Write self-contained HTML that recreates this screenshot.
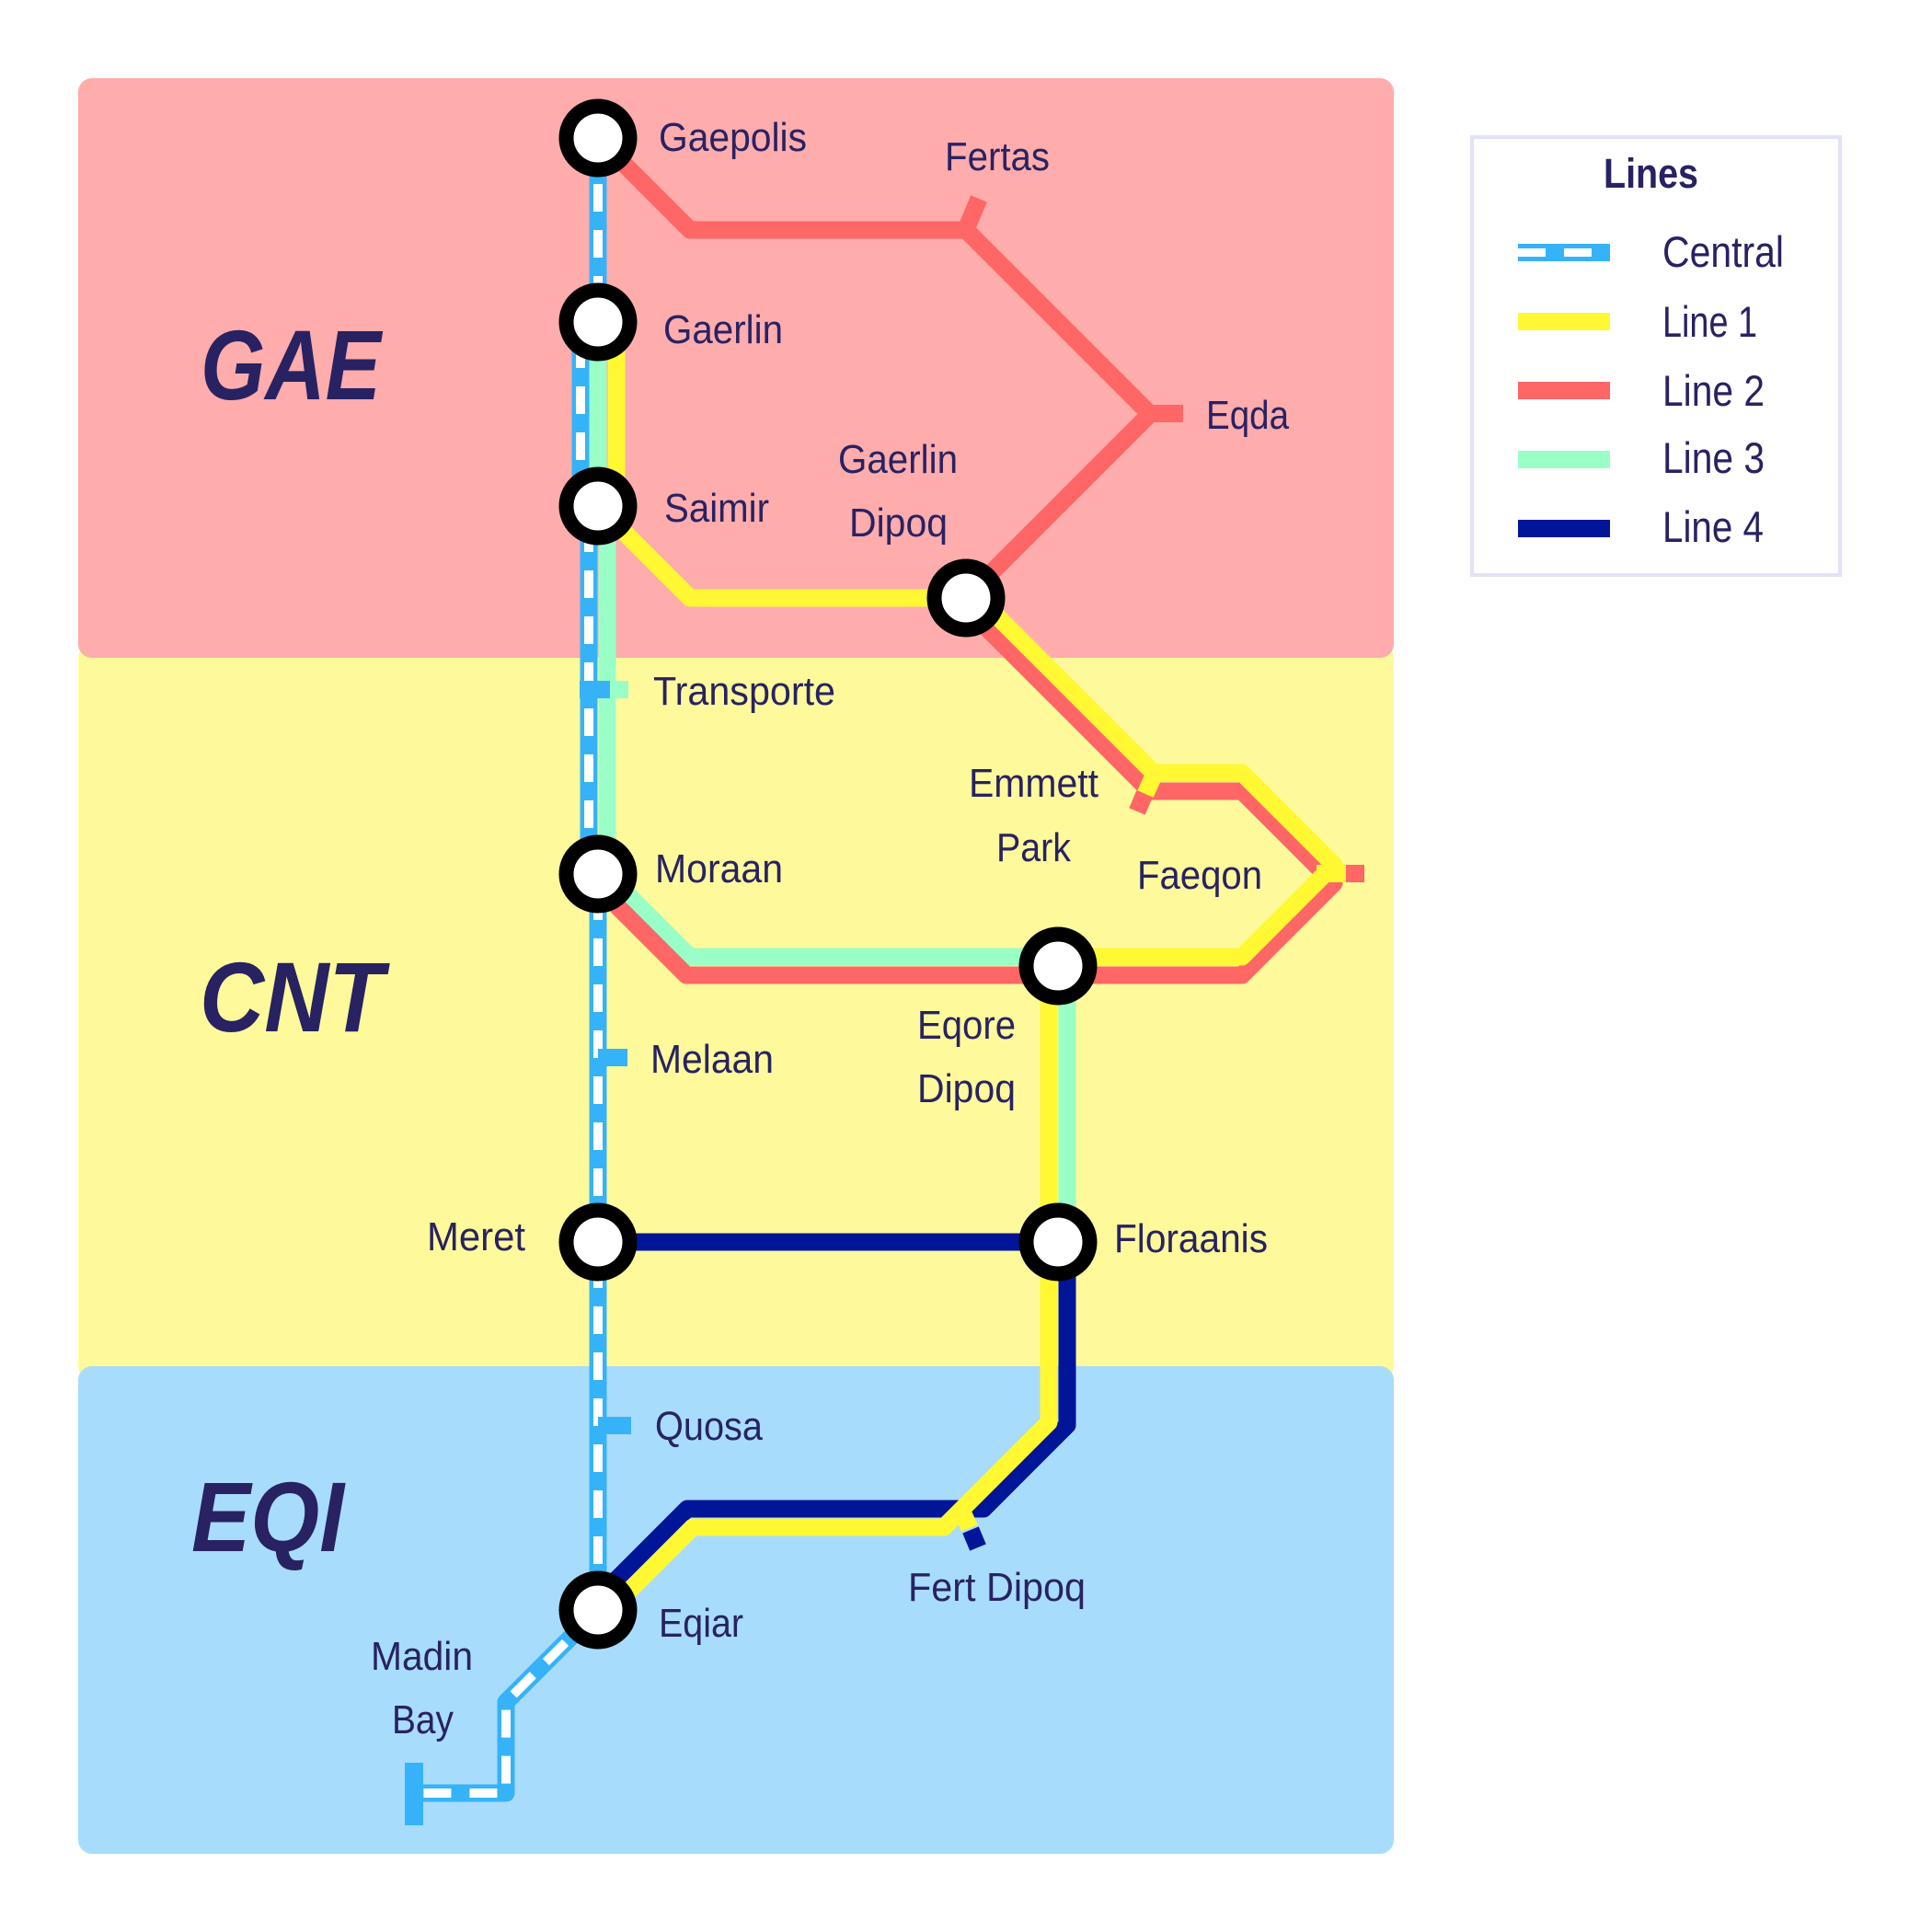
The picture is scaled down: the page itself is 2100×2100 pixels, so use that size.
<!DOCTYPE html>
<html>
<head>
<meta charset="utf-8">
<style>
  html, body { margin: 0; padding: 0; background: #ffffff; }
  svg { display: block; }
  .lbl { font-family: "Liberation Sans", sans-serif; font-size: 44px; fill: #282262; }
  .lg { font-family: "Liberation Sans", sans-serif; font-size: 47px; fill: #282262; }
  .reg { font-family: "Liberation Sans", sans-serif; font-size: 108px; font-weight: bold; font-style: italic; fill: #282262; }
</style>
</head>
<body>
<svg width="2100" height="2100" viewBox="0 0 2100 2100" xmlns="http://www.w3.org/2000/svg">
  <rect x="0" y="0" width="2100" height="2100" fill="#ffffff"/>

  <!-- Regions -->
  <rect x="85" y="700" width="1430" height="800" rx="15" fill="#FEFA9B"/>
  <rect x="85" y="85" width="1430" height="630" rx="15" fill="#FEACAC"/>
  <rect x="85" y="1485" width="1430" height="530" rx="15" fill="#A8DCFC"/>

  <!-- Region titles -->
  <text class="reg" x="218" y="434" textLength="196" lengthAdjust="spacingAndGlyphs">GAE</text>
  <text class="reg" x="217" y="1121" textLength="200" lengthAdjust="spacingAndGlyphs">CNT</text>
  <text class="reg" x="208" y="1686" textLength="166" lengthAdjust="spacingAndGlyphs">EQI</text>

  <g fill="none" stroke-width="19" stroke-linejoin="round" stroke-linecap="butt">
    <!-- Line 3 (green) -->
    <path d="M650,350 V550 M660,550 V950 L750,1040 H1160 V1350" stroke="#99FFC6"/>
    <!-- Line 2 (red) -->
    <path d="M650,150 L750,250 H1050 L1250,450 L1045,655 L1250,860 H1350 L1450,960 L1350,1060 H746 L636,950" stroke="#FF6666"/>
    <!-- Line 4 (navy) -->
    <path d="M650,1350 H1160 V1549 L1069,1640 H747 L637,1750" stroke="#001598"/>
    <!-- Line 1 (yellow) -->
    <path d="M670,350 V570 L750,650 H1064 L1254,840 H1350 L1450,940 L1350,1040 H1140 V1546 L1026,1660 H753 L663,1750" stroke="#FFF833"/>
  </g>

  <!-- Central line (blue with white dashes) -->
  <g fill="none" stroke-linejoin="round" stroke-linecap="butt">
    <g stroke="#36B3F8" stroke-width="19">
      <path d="M650,150 V350"/>
      <path d="M631,350 V550"/>
      <path d="M640,550 V950"/>
      <path d="M650,950 V1750"/>
      <path d="M650,1750 L550,1850 V1949 H450"/>
    </g>
    <g stroke="#ffffff" stroke-width="10" stroke-dasharray="30 20">
      <path d="M650,150 V350"/>
      <path d="M631,350 V550" stroke-dashoffset="30"/>
      <path d="M640,550 V950" stroke-dashoffset="30"/>
      <path d="M650,950 V1750" stroke-dashoffset="30"/>
      <path d="M650,1750 L550,1850 V1949 H450"/>
    </g>
  </g>

  <!-- Station stubs -->
  <rect x="630" y="740" width="33" height="19" fill="#36B3F8"/>
  <rect x="663" y="740" width="20" height="19" fill="#99FFC6"/>
  <rect x="650" y="1140" width="32" height="19" fill="#36B3F8"/>
  <rect x="650" y="1540" width="36" height="19" fill="#36B3F8"/>
  <rect x="1249" y="440" width="37" height="19" fill="#FF6666"/>
  <rect x="1431" y="940" width="32" height="19" fill="#FFF833"/>
  <rect x="1463" y="940" width="20" height="19" fill="#FF6666"/>
  <rect x="440" y="1916" width="20" height="68" fill="#36B3F8"/>
  <g stroke-width="19" stroke-linecap="butt">
    <line x1="1051" y1="247" x2="1064" y2="216" stroke="#FF6666"/>
    <line x1="1244" y1="863" x2="1236" y2="882" stroke="#FF6666"/>
    <line x1="1254" y1="843" x2="1245" y2="863" stroke="#FFF833"/>
    <line x1="1055" y1="1663" x2="1063" y2="1682" stroke="#001598"/>
    <line x1="1045" y1="1641" x2="1054" y2="1661" stroke="#FFF833"/>
  </g>

  <!-- Stations -->
  <g fill="#ffffff" stroke="#000000" stroke-width="16">
    <circle cx="650" cy="150" r="34.5"/>
    <circle cx="650" cy="350" r="34.5"/>
    <circle cx="650" cy="550" r="34.5"/>
    <circle cx="1050" cy="650" r="34.5"/>
    <circle cx="650" cy="950" r="34.5"/>
    <circle cx="1150" cy="1050" r="34.5"/>
    <circle cx="650" cy="1350" r="34.5"/>
    <circle cx="1150" cy="1350" r="34.5"/>
    <circle cx="650" cy="1750" r="34.5"/>
  </g>

  <!-- Labels -->
  <g class="lbl">
    <text class="lbl" x="716" y="164" textLength="161" lengthAdjust="spacingAndGlyphs">Gaepolis</text>
    <text class="lbl" x="1027" y="185" textLength="114" lengthAdjust="spacingAndGlyphs">Fertas</text>
    <text class="lbl" x="721" y="373" textLength="130" lengthAdjust="spacingAndGlyphs">Gaerlin</text>
    <text class="lbl" x="1311" y="466" textLength="90" lengthAdjust="spacingAndGlyphs">Eqda</text>
    <text class="lbl" x="911" y="514" textLength="130" lengthAdjust="spacingAndGlyphs">Gaerlin</text>
    <text class="lbl" x="923" y="583" textLength="107" lengthAdjust="spacingAndGlyphs">Dipoq</text>
    <text class="lbl" x="722" y="567" textLength="114" lengthAdjust="spacingAndGlyphs">Saimir</text>
    <text class="lbl" x="710" y="766" textLength="198" lengthAdjust="spacingAndGlyphs">Transporte</text>
    <text class="lbl" x="1053" y="866" textLength="141" lengthAdjust="spacingAndGlyphs">Emmett</text>
    <text class="lbl" x="1083" y="936" textLength="81" lengthAdjust="spacingAndGlyphs">Park</text>
    <text class="lbl" x="712" y="959" textLength="139" lengthAdjust="spacingAndGlyphs">Moraan</text>
    <text class="lbl" x="1236" y="966" textLength="136" lengthAdjust="spacingAndGlyphs">Faeqon</text>
    <text class="lbl" x="707" y="1166" textLength="134" lengthAdjust="spacingAndGlyphs">Melaan</text>
    <text class="lbl" x="997" y="1129" textLength="107" lengthAdjust="spacingAndGlyphs">Eqore</text>
    <text class="lbl" x="997" y="1198" textLength="107" lengthAdjust="spacingAndGlyphs">Dipoq</text>
    <text class="lbl" x="1211" y="1361" textLength="167" lengthAdjust="spacingAndGlyphs">Floraanis</text>
    <text class="lbl" x="464" y="1359" textLength="107" lengthAdjust="spacingAndGlyphs">Meret</text>
    <text class="lbl" x="712" y="1565" textLength="117" lengthAdjust="spacingAndGlyphs">Quosa</text>
    <text class="lbl" x="716" y="1779" textLength="92" lengthAdjust="spacingAndGlyphs">Eqiar</text>
    <text class="lbl" x="403" y="1815" textLength="111" lengthAdjust="spacingAndGlyphs">Madin</text>
    <text class="lbl" x="426" y="1884" textLength="67" lengthAdjust="spacingAndGlyphs">Bay</text>
    <text class="lbl" x="987" y="1740" textLength="193" lengthAdjust="spacingAndGlyphs">Fert Dipoq</text>
  </g>

  <!-- Legend -->
  <rect x="1600" y="149" width="400" height="476" fill="#ffffff" stroke="#E2E2F8" stroke-width="4"/>
  <text x="1743" y="204" font-family="Liberation Sans, sans-serif" font-size="45" font-weight="bold" fill="#282262" textLength="103" lengthAdjust="spacingAndGlyphs">Lines</text>

  <rect x="1650" y="265" width="100" height="19" fill="#36B3F8"/>
  <rect x="1650" y="270" width="30" height="9" fill="#ffffff"/>
  <rect x="1700" y="270" width="30" height="9" fill="#ffffff"/>
  <rect x="1650" y="340" width="100" height="19" fill="#FFF833"/>
  <rect x="1650" y="415" width="100" height="19" fill="#FF6666"/>
  <rect x="1650" y="490" width="100" height="19" fill="#99FFC6"/>
  <rect x="1650" y="565" width="100" height="19" fill="#001598"/>

  <text class="lg" x="1807" y="290" textLength="132" lengthAdjust="spacingAndGlyphs">Central</text>
  <text class="lg" x="1807" y="366" textLength="103" lengthAdjust="spacingAndGlyphs">Line 1</text>
  <text class="lg" x="1807" y="441" textLength="111" lengthAdjust="spacingAndGlyphs">Line 2</text>
  <text class="lg" x="1807" y="514" textLength="111" lengthAdjust="spacingAndGlyphs">Line 3</text>
  <text class="lg" x="1807" y="589" textLength="110" lengthAdjust="spacingAndGlyphs">Line 4</text>
</svg>
</body>
</html>
